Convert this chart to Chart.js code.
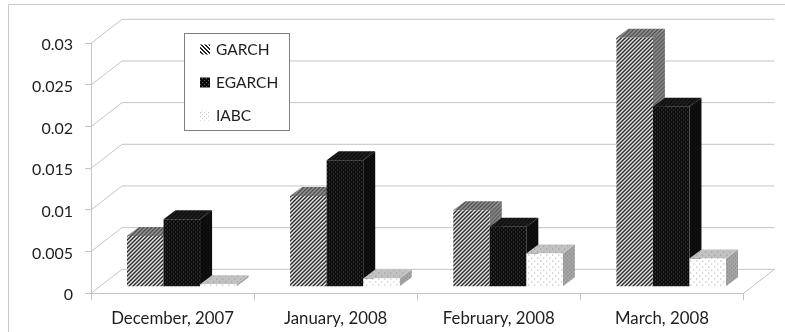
<!DOCTYPE html>
<html>
<head>
<meta charset="utf-8">
<style>
  html, body { margin: 0; padding: 0; background: #fff; overflow: hidden; }
  canvas { display: block; }
</style>
<script src="https://cdn.jsdelivr.net/npm/chart.js@4"></script>
</head>
<body>
<canvas id="grafico" width="785" height="332"></canvas>
<script>
var categories = ['December, 2007', 'January, 2008', 'February, 2008', 'March, 2008'];
var garch = [0.0061, 0.0109, 0.0092, 0.0299];
var egarch = [0.0081, 0.0152, 0.0072, 0.0216];
var iabc = [0.0003, 0.0010, 0.0040, 0.0034];
var tickLabels = ['0', '0.005', '0.01', '0.015', '0.02', '0.025', '0.03'];

var FONT = 'Lato, "Open Sans", sans-serif';
var GRID = '#c4c4c4';

// depth of the box the chart sits in, and of each bar
var WALL_DX = 31, WALL_DY = -24;
var BAR_SHIFT_X = 9.25, BAR_SHIFT_Y = -6.5;
var BAR_DX = 12, BAR_DY = -9;

function tile(size, paint) {
    var c = document.createElement('canvas');
    c.width = c.height = size;
    paint(c.getContext('2d'));
    return document.createElement('canvas').getContext('2d').createPattern(c, 'repeat');
}

function stripes(bg, fg, rising) {
    return tile(4, function (t) {
        t.fillStyle = bg;
        t.fillRect(0, 0, 4, 4);
        t.fillStyle = fg;
        for (var i = 0; i < 4; i++) {
            var x = rising ? 3 - i : i;
            t.fillRect(x, i, 1, 1);
            t.fillRect((x + 1) % 4, i, 1, 1);
        }
    });
}

function dots(bg, fg, size) {
    return tile(size, function (t) {
        t.fillStyle = bg;
        t.fillRect(0, 0, size, size);
        t.fillStyle = fg;
        t.fillRect(0, 0, 1, 1);
        t.fillRect(size / 2, size / 2, 1, 1);
    });
}

// front, top and side fills of each series
var fills = [
    { front: stripes('#ffffff', '#111111', true), top: stripes('#9a9a9a', '#4a4a4a', true), side: stripes('#8c8c8c', '#5c5c5c', true), swatch: stripes('#ffffff', '#222222', false) },
    { front: dots('#0a0a0a', '#707070', 4), top: stripes('#0a0a0a', '#262626', true), side: dots('#0a0a0a', '#242424', 4), swatch: dots('#0c0c0c', '#5a5a5a', 4) },
    { front: dots('#ffffff', '#a0a0a0', 6), top: dots('#c2c2c2', '#8e8e8e', 6), side: dots('#a6a6a6', '#727272', 4), swatch: dots('#ffffff', '#c4c4c4', 4) }
];

function polygon(ctx, fill, pts) {
    ctx.fillStyle = fill;
    ctx.beginPath();
    ctx.moveTo(pts[0][0], pts[0][1]);
    for (var i = 1; i < pts.length; i++) ctx.lineTo(pts[i][0], pts[i][1]);
    ctx.closePath();
    ctx.fill();
}

var boxPlugin = {
    id: 'box',
    beforeDraw: function (chart) {
        var ctx = chart.ctx;
        ctx.save();
        // outer frame: top and left edges only
        ctx.strokeStyle = '#c8c8c8';
        ctx.lineWidth = 1;
        ctx.beginPath();
        ctx.moveTo(785, 4.5);
        ctx.lineTo(8.5, 4.5);
        ctx.lineTo(8.5, 332);
        ctx.stroke();
        ctx.restore();
    },
    beforeDatasetsDraw: function (chart) {
        var ctx = chart.ctx, y = chart.scales.y, a = chart.chartArea;
        ctx.save();
        ctx.strokeStyle = GRID;
        ctx.lineWidth = 1;
        y.ticks.forEach(function (t) {
            var py = y.getPixelForValue(t.value);
            ctx.beginPath();
            ctx.moveTo(a.left, py);
            ctx.lineTo(a.left + WALL_DX, py + WALL_DY);
            ctx.lineTo(a.right + WALL_DX, py + WALL_DY);
            ctx.stroke();
        });
        // right edge of the floor
        ctx.beginPath();
        ctx.moveTo(a.right, a.bottom);
        ctx.lineTo(a.right + WALL_DX, a.bottom + WALL_DY);
        ctx.stroke();
        ctx.restore();

        // series run front to back left to right, so each one paints over its left neighbour
        chart.data.datasets.forEach(function (ds, i) {
            var meta = chart.getDatasetMeta(i), f = fills[i];
            ctx.save();
            ctx.translate(BAR_SHIFT_X, BAR_SHIFT_Y);
            meta.data.forEach(function (bar) {
                var l = bar.x - bar.width / 2, r = bar.x + bar.width / 2;
                polygon(ctx, f.side, [[r, bar.y], [r + BAR_DX, bar.y + BAR_DY], [r + BAR_DX, bar.base + BAR_DY], [r, bar.base]]);
                polygon(ctx, f.top, [[l, bar.y], [l + BAR_DX, bar.y + BAR_DY], [r + BAR_DX, bar.y + BAR_DY], [r, bar.y]]);
            });
            meta.controller.draw();
            ctx.restore();
        });
    },
    beforeDatasetDraw: function () {
        return false;
    },
    afterDraw: function (chart) {
        var ctx = chart.ctx;
        ctx.save();
        ctx.fillStyle = '#ffffff';
        ctx.fillRect(184.5, 33.5, 105, 97);
        ctx.strokeStyle = '#808080';
        ctx.lineWidth = 1;
        ctx.strokeRect(184.5, 33.5, 105, 97);
        ctx.font = '15.5px ' + FONT;
        ctx.textBaseline = 'middle';
        chart.data.datasets.forEach(function (ds, i) {
            var cy = 50 + i * 33;
            ctx.fillStyle = fills[i].swatch;
            ctx.fillRect(200, cy - 5.5, 10, 10);
            ctx.fillStyle = '#1e1e1e';
            ctx.fillText(ds.label, 216, cy);
        });
        ctx.restore();
    }
};

var ctx = document.getElementById('grafico').getContext('2d');

var data = {
    labels: categories,
    datasets: [
        { label: 'GARCH', data: garch, backgroundColor: fills[0].front },
        { label: 'EGARCH', data: egarch, backgroundColor: fills[1].front },
        { label: 'IABC', data: iabc, backgroundColor: fills[2].front }
    ]
};

var config = {
    type: 'bar',
    data: data,
    plugins: [boxPlugin],
    options: {
        responsive: false,
        animation: false,
        layout: { padding: { top: 43.3, right: 41.5, bottom: 0, left: 0 } },
        datasets: { bar: { categoryPercentage: 0.672, barPercentage: 1, borderWidth: 0 } },
        plugins: { legend: { display: false }, tooltip: { enabled: false } },
        scales: {
            x: {
                afterFit: function (s) { s.height = 38.7; },
                border: { color: GRID },
                grid: { drawOnChartArea: false, color: GRID, tickLength: 7 },
                ticks: { color: '#1e1e1e', font: { family: FONT, size: 16.8 }, padding: 8, maxRotation: 0 }
            },
            y: {
                min: 0,
                max: 0.03,
                afterFit: function (s) { s.width = 91; },
                afterBuildTicks: function (s) {
                    s.ticks = tickLabels.map(function (t) { return { value: parseFloat(t), label: t }; });
                },
                border: { color: GRID },
                grid: { drawOnChartArea: false, color: GRID, tickLength: 6 },
                ticks: {
                    color: '#1e1e1e',
                    font: { family: FONT, size: 16 },
                    padding: 12,
                    labelOffset: 2,
                    callback: function (v) { return String(v); }
                }
            }
        }
    }
};

var myChart = new Chart(ctx, config);
</script>
</body>
</html>
